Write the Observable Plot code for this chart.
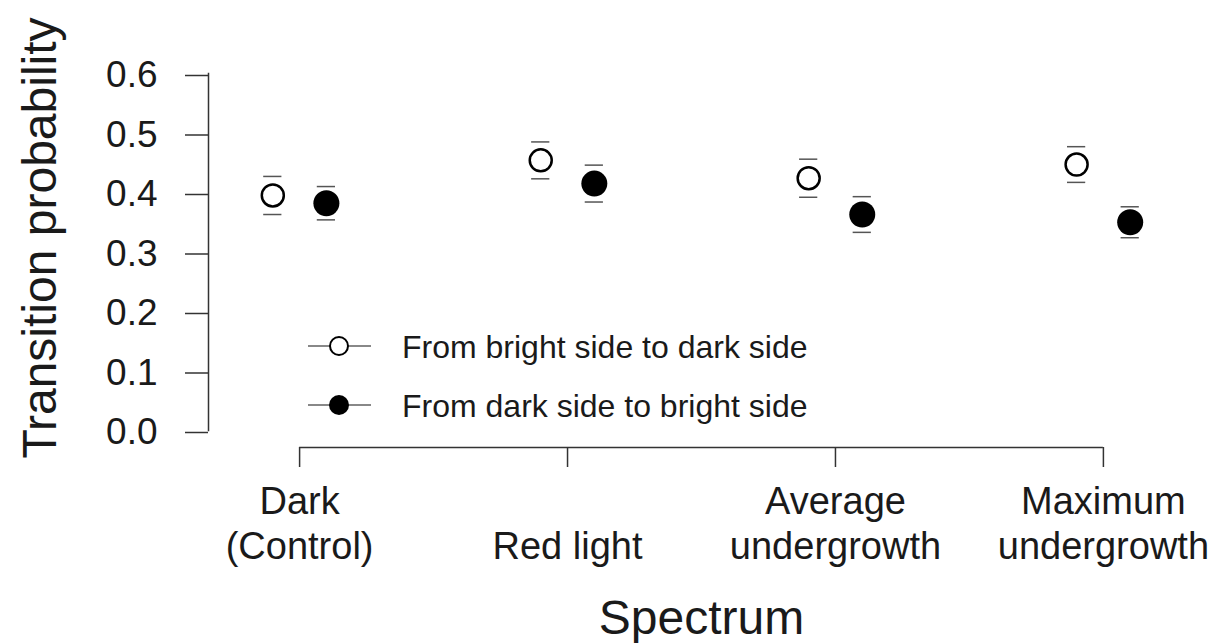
<!DOCTYPE html>
<html>
<head>
<meta charset="utf-8">
<script src="https://cdn.jsdelivr.net/npm/d3@7"></script>
<script src="https://cdn.jsdelivr.net/npm/@observablehq/plot@0.6"></script>
<style>
  html, body { margin: 0; padding: 0; background: #fff; }
  #wrap { position: relative; width: 1228px; height: 643px; font-family: "Liberation Sans", Arial, Helvetica, sans-serif; }
  #legend { position: absolute; left: 0; top: 0; pointer-events: none; }
</style>
</head>
<body>
<div id="wrap"></div>
<script>
// ---- data ----
const categories = ["Dark\n(Control)", "\nRed light", "Average\nundergrowth", "Maximum\nundergrowth"];
const brightToDark   = [0.395, 0.454, 0.424, 0.447];
const brightToDarkSE = [0.032, 0.031, 0.032, 0.030];
const darkToBright   = [0.382, 0.415, 0.363, 0.350];
const darkToBrightSE = [0.028, 0.031, 0.030, 0.026];
const yTicks = [0, 0.1, 0.2, 0.3, 0.4, 0.5, 0.6];
const seriesNames = ["From bright side to dark side", "From dark side to bright side"];

const positions = categories.map((_, i) => i + 1);
const dodge = 0.1;
const capHalf = 0.034;

const open = categories.map((c, i) => ({x: positions[i] - dodge, v: brightToDark[i], se: brightToDarkSE[i]}));
const filled = categories.map((c, i) => ({x: positions[i] + dodge, v: darkToBright[i], se: darkToBrightSE[i]}));
const all = open.concat(filled);

const font = '"Liberation Sans", Arial, Helvetica, sans-serif';

const chart = Plot.plot({
  width: 1228,
  height: 643,
  marginLeft: 208,
  marginRight: 34,
  marginTop: 73,
  marginBottom: 213,
  style: {fontFamily: font, color: "#1a1a1a", background: "white"},
  x: {domain: [0.66, 4.34], axis: null},
  y: {domain: [0, 0.6], axis: null},
  marks: [
    // y axis line + ticks
    Plot.frame({anchor: "left", stroke: "#333", strokeWidth: 1.5}),
    Plot.axisY({ticks: yTicks, tickFormat: d3.format(".1f"), tickSize: 23, tickPadding: 28,
                fontSize: 37, dy: 2, label: null, stroke: "#333", strokeWidth: 1.5}),
    // x axis line + ticks
    Plot.ruleY([0], {x1: positions[0], x2: positions[positions.length - 1], dy: 17, stroke: "#333", strokeWidth: 1.5}),
    Plot.axisX({ticks: positions, tickFormat: (d) => categories[d - 1], tickSize: 20, tickPadding: 14,
                dy: 17, fontSize: 38, lineHeight: 1.2, label: null, stroke: "#333", strokeWidth: 1.5}),
    // error caps
    Plot.ruleY(all, {y: (d) => d.v + d.se, x1: (d) => d.x - capHalf, x2: (d) => d.x + capHalf, stroke: "#555", strokeWidth: 1.5}),
    Plot.ruleY(all, {y: (d) => d.v - d.se, x1: (d) => d.x - capHalf, x2: (d) => d.x + capHalf, stroke: "#555", strokeWidth: 1.5}),
    // points
    Plot.dot(open, {x: "x", y: "v", r: 11, fill: "white", stroke: "black", strokeWidth: 2.5}),
    Plot.dot(filled, {x: "x", y: "v", r: 13, fill: "black", stroke: "none"}),
    // axis titles
    Plot.text(["Transition probability"], {frameAnchor: "left", textAnchor: "middle", rotate: -90, dx: -153, dy: -14,
                lineAnchor: "bottom", fontSize: 48, fill: "#1a1a1a"}),
    Plot.text(["Spectrum"], {frameAnchor: "bottom", textAnchor: "middle", dy: 203, lineAnchor: "bottom", fontSize: 48, fill: "#1a1a1a"})
  ]
});

const wrap = document.getElementById("wrap");
wrap.appendChild(chart);

// legend (overlaid inside the plot area, as in the reference)
const ns = "http://www.w3.org/2000/svg";
const leg = document.createElementNS(ns, "svg");
leg.setAttribute("id", "legend");
leg.setAttribute("width", 1228);
leg.setAttribute("height", 643);
const rows = [{cy: 346, fill: "white", r: 9, sw: 2}, {cy: 405, fill: "black", r: 10, sw: 0}];
rows.forEach((row, i) => {
  const line = document.createElementNS(ns, "line");
  line.setAttribute("x1", 308); line.setAttribute("x2", 371);
  line.setAttribute("y1", row.cy); line.setAttribute("y2", row.cy);
  line.setAttribute("stroke", "#888"); line.setAttribute("stroke-width", 2);
  leg.appendChild(line);
  const c = document.createElementNS(ns, "circle");
  c.setAttribute("cx", 339); c.setAttribute("cy", row.cy); c.setAttribute("r", row.r);
  c.setAttribute("fill", row.fill);
  c.setAttribute("stroke", "black"); c.setAttribute("stroke-width", row.sw);
  leg.appendChild(c);
  const t = document.createElementNS(ns, "text");
  t.setAttribute("x", 402); t.setAttribute("y", row.cy + 12);
  t.setAttribute("font-size", 32); t.setAttribute("font-family", font);
  t.setAttribute("fill", "#1a1a1a");
  t.textContent = seriesNames[i];
  leg.appendChild(t);
});
wrap.appendChild(leg);
</script>
</body>
</html>
